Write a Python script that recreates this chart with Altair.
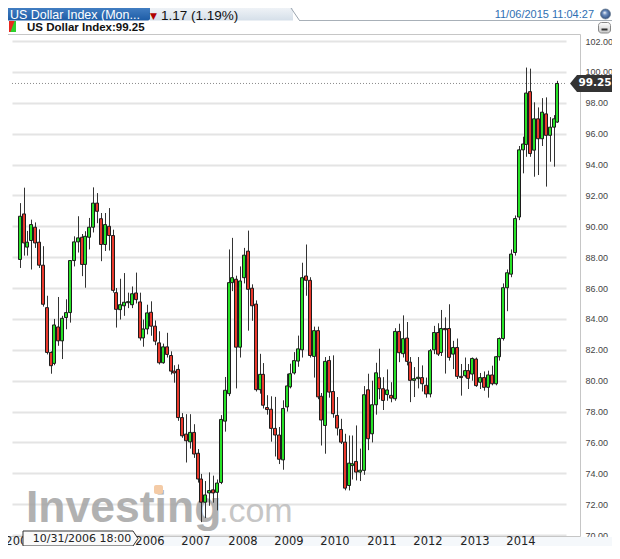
import altair as alt
import pandas as pd

# ---------------- data (monthly candles) ----------------
opens = [87.85, 90.80, 88.65, 89.08, 89.94, 88.97, 87.48, 84.73, 81.83, 81.12,
         83.48, 82.58, 84.09, 84.41, 87.78, 88.99, 89.29, 87.53, 89.29, 89.94,
         91.50, 90.49, 88.82, 90.00, 89.40, 85.70, 84.60, 84.85, 85.05, 84.92,
         85.68, 85.10, 82.77, 83.35, 84.43, 83.53, 82.45, 81.16, 82.19, 81.63,
         80.62, 80.73, 77.61, 76.54, 76.04, 76.65, 75.30, 73.63, 72.13, 72.73,
         72.93, 72.77, 73.41, 77.38, 79.16, 86.35, 86.57, 82.17, 86.67, 88.39,
         85.99, 84.96, 79.42, 80.41, 78.26, 78.15, 76.91, 76.48, 74.87, 78.30,
         79.60, 80.50, 81.27, 82.00, 86.78, 86.50, 81.57, 83.24, 78.99, 77.10,
         81.31, 79.30, 77.75, 76.84, 76.02, 73.21, 74.50, 74.77, 74.08, 74.19,
         79.41, 76.56, 78.44, 80.19, 79.48, 79.10, 79.05, 78.83, 83.19, 81.75,
         82.76, 81.20, 80.02, 80.13, 80.20, 79.70, 79.14, 82.00, 83.12, 81.83,
         83.38, 83.38, 81.72, 82.15, 80.28, 80.32, 80.65, 80.43, 81.40, 79.90,
         80.20, 79.57, 80.37, 79.80, 81.55, 82.73, 86.02, 86.90, 88.30, 90.60,
         94.95, 95.30, 98.72, 94.93, 96.96, 95.67, 97.28, 95.89, 96.42, 96.75]
highs = [91.50, 92.50, 89.70, 90.43, 90.25, 89.80, 88.71, 85.50, 81.90, 84.00,
         85.42, 84.20, 85.27, 87.80, 89.35, 90.65, 89.50, 89.68, 90.54, 92.52,
         92.15, 90.86, 90.86, 91.18, 89.78, 86.00, 86.60, 86.97, 85.70, 86.10,
         87.00, 85.70, 83.96, 84.92, 85.14, 83.90, 83.20, 82.40, 83.10, 81.90,
         81.00, 81.05, 77.90, 77.83, 77.83, 77.18, 75.57, 73.96, 73.50, 74.06,
         73.85, 73.60, 77.77, 80.24, 88.50, 89.25, 86.80, 87.40, 88.60, 89.72,
         86.24, 85.20, 81.74, 81.14, 79.06, 78.99, 78.95, 77.00, 78.73, 80.45,
         81.10, 81.85, 82.92, 87.64, 88.82, 86.70, 83.50, 83.50, 79.20, 81.53,
         81.60, 81.64, 78.94, 77.53, 76.56, 76.45, 76.45, 77.10, 75.60, 79.65,
         80.45, 80.00, 81.16, 82.07, 80.23, 80.73, 79.90, 83.40, 83.69, 84.23,
         83.80, 81.53, 80.88, 81.53, 80.99, 80.20, 82.05, 83.55, 83.72, 84.58,
         84.10, 84.95, 82.58, 82.73, 81.08, 81.50, 81.08, 81.50, 81.50, 80.50,
         80.60, 80.65, 80.97, 81.60, 82.80, 86.30, 87.20, 88.50, 90.70, 95.20,
         95.80, 100.28, 100.21, 98.03, 97.70, 98.30, 98.35, 97.07, 97.20, 99.42]
lows = [87.30, 88.10, 88.10, 87.20, 88.60, 87.30, 84.80, 81.70, 80.45, 81.00,
        82.26, 81.40, 83.33, 83.76, 87.40, 88.30, 86.77, 86.02, 88.50, 89.60,
        90.20, 87.74, 88.40, 88.43, 85.70, 83.44, 83.96, 84.20, 84.70, 84.70,
        85.00, 82.60, 82.20, 83.00, 82.91, 82.30, 81.05, 81.10, 81.50, 80.40,
        79.87, 77.40, 76.30, 74.70, 75.60, 75.00, 73.40, 70.84, 71.10, 71.90,
        72.10, 71.60, 73.30, 76.70, 79.00, 85.80, 79.50, 81.50, 86.30, 83.24,
        83.88, 79.30, 79.16, 78.20, 77.80, 76.05, 75.09, 74.60, 74.23, 78.00,
        79.50, 80.40, 80.90, 81.50, 85.50, 81.50, 80.20, 78.80, 75.80, 75.27,
        78.90, 77.60, 76.45, 75.90, 72.90, 72.89, 73.60, 73.54, 73.50, 73.90,
        75.50, 76.00, 77.80, 78.80, 78.10, 78.70, 78.60, 78.70, 81.20, 81.50,
        80.99, 78.61, 78.94, 79.50, 79.30, 78.90, 78.92, 81.72, 81.60, 81.60,
        80.46, 81.30, 80.75, 80.11, 79.03, 80.20, 79.46, 80.00, 79.60, 79.46,
        79.35, 78.90, 79.70, 79.70, 81.30, 82.60, 84.50, 86.70, 88.10, 90.40,
        93.43, 94.50, 94.50, 93.21, 93.32, 95.20, 92.57, 94.18, 93.86, 96.70]
closes = [90.65, 88.92, 88.97, 90.11, 88.92, 87.48, 84.95, 81.83, 80.97, 83.61,
          82.58, 84.04, 84.41, 87.78, 88.99, 89.25, 87.53, 89.35, 89.94, 91.50,
          90.97, 88.82, 90.11, 89.40, 85.85, 84.62, 84.92, 85.08, 85.12, 85.63,
          85.25, 82.77, 83.35, 84.39, 83.53, 82.56, 81.16, 82.19, 81.70, 80.62,
          80.50, 77.61, 76.43, 76.11, 76.65, 75.25, 73.63, 72.13, 72.60, 72.88,
          72.73, 73.37, 77.49, 79.38, 86.35, 86.67, 82.17, 86.46, 88.13, 85.92,
          84.85, 79.42, 80.41, 78.41, 78.13, 76.91, 76.48, 74.91, 78.20, 79.66,
          80.45, 81.30, 82.06, 86.67, 86.50, 81.63, 83.24, 78.95, 77.45, 81.25,
          79.26, 77.86, 76.93, 76.02, 73.04, 74.66, 74.62, 74.08, 74.20, 79.09,
          76.24, 78.44, 80.51, 79.48, 78.72, 79.40, 78.87, 83.19, 81.81, 82.72,
          81.25, 80.02, 80.13, 80.22, 79.80, 79.14, 81.94, 83.12, 81.72, 83.38,
          83.30, 81.51, 82.15, 80.28, 80.20, 80.65, 80.15, 81.44, 79.68, 80.20,
          79.57, 80.37, 79.80, 81.55, 82.73, 86.02, 86.99, 88.20, 90.50, 94.95,
          95.33, 98.63, 94.71, 96.96, 95.67, 97.39, 95.89, 96.42, 96.96, 99.25]

last_price = 99.25
y_ticks = list(range(70, 104, 2))
year_labels = ["2004", "2006", "2007", "2008", "2009", "2010",
               "2011", "2012", "2013", "2014"]
header_title = "US Dollar Index (Mon..."
header_change = "1.17 (1.19%)"
header_time = "11/06/2015 11:04:27"
series_label = "US Dollar Index:99.25"
crosshair_label = "10/31/2006 18:00"

n = len(opens)
df = pd.DataFrame({"i": list(range(n)), "open": opens, "high": highs,
                   "low": lows, "close": closes})
df["dir"] = ["up" if c >= o else "down" for o, c in zip(opens, closes)]

# year labels sit one every 12 months on the month-index scale
year_idx = [0.2] + [33.6 + 12 * k for k in range(len(year_labels) - 1)]
years_df = pd.DataFrame({"pos": year_idx, "label": year_labels})
price_df = pd.DataFrame({"v": [last_price], "t": [f"{last_price:.2f}"]})

# ---------------- geometry / styling ----------------
W, H = 554, 501
X0, Y0 = 12, 35  # plot origin in widget pixel coordinates


def X(rx):
    return rx - X0


def Y(ry):
    return ry - Y0


GREEN = "#27e227"
RED = "#e8382c"
xscale = alt.Scale(domain=[-0.685, 139.92], nice=False, zero=False, round=True)
yscale = alt.Scale(domain=[69.94, 102.389], nice=False, zero=False)


def yaxis():
    return alt.Axis(orient="right", values=y_ticks, format=".2f", grid=True,
                    gridColor="#e4e4e4", gridWidth=2, domain=False, ticks=False,
                    labelPadding=19, labelFont="Liberation Sans", labelFontSize=9,
                    labelColor="#444444", labelAlign="left",
                    labelBaseline="middle", title=None)


def vgrad(c1, c2):
    return {"gradient": "linear", "x1": 0, "x2": 0, "y1": 0, "y2": 1,
            "stops": [{"offset": 0, "color": c1}, {"offset": 1, "color": c2}]}


one = alt.Data(values=[{"k": 1}])


def box(x1, x2, y1, y2, **kw):
    return alt.Chart(one).mark_rect(**kw).encode(
        x=alt.value(X(x1)), x2=alt.value(X(x2)),
        y=alt.value(Y(y1)), y2=alt.value(Y(y2)))


def label(txt, rx, ry, **kw):
    return alt.Chart(one).mark_text(text=txt, **kw).encode(
        x=alt.value(X(rx)), y=alt.value(Y(ry)))


def seg(x1, y1, x2, y2, **kw):
    return alt.Chart(one).mark_rule(**kw).encode(
        x=alt.value(X(x1)), x2=alt.value(X(x2)),
        y=alt.value(Y(y1)), y2=alt.value(Y(y2)))


# ---------------- layers ----------------
bottom_band = box(3, 620, 537, 560, fill="#f5f8fb")
frame = box(3.5, 580.5, 34.5, 536.5, filled=False, stroke="#c6c6c6", strokeWidth=1)

logo1 = label("Investing", 26, 522, font="Liberation Sans", fontWeight="bold",
              fontSize=44.5, color="#a4a4a4", opacity=0.85, align="left",
              baseline="alphabetic")
logo2 = label(".com", 219, 522, font="Liberation Sans", fontSize=34,
              color="#c0c0c0", opacity=0.9, align="left", baseline="alphabetic")
logo_dot = box(154, 163, 485, 494, fill="#f4cba6", cornerRadius=2)

dotted = alt.Chart(price_df).mark_rule(color="#8a8a8a", strokeDash=[1, 2],
                                       strokeWidth=1).encode(
    y=alt.Y("v:Q", scale=yscale, axis=yaxis()),
    x=alt.value(0), x2=alt.value(W))

wicks = alt.Chart(df).mark_rule(color="#333333", strokeWidth=1, xOffset=0.5).encode(
    x=alt.X("i:Q", scale=xscale, axis=None),
    y=alt.Y("low:Q", scale=yscale, axis=yaxis()),
    y2="high:Q")

bodies = alt.Chart(df).mark_bar(size=3, stroke="#1c1c1c", strokeWidth=1,
                                opacity=1).encode(
    x=alt.X("i:Q", scale=xscale, axis=None),
    y=alt.Y("open:Q", scale=yscale, axis=yaxis()),
    y2="close:Q",
    fill=alt.Fill("dir:N", scale=alt.Scale(domain=["up", "down"],
                                           range=[GREEN, RED]), legend=None))

price_box = alt.Chart(price_df).mark_point(
    shape="M-5.625,0 L-3.875,-2.125 L5.625,-2.125 L5.625,2.125 L-3.875,2.125 Z",
    size=64, filled=True, color="#333333", opacity=1).encode(
    y=alt.Y("v:Q", scale=yscale, axis=yaxis()), x=alt.value(X(592.5)))
price_txt = alt.Chart(price_df).mark_text(
    color="white", font="DejaVu Sans", fontWeight="bold", fontSize=10.5,
    align="center", baseline="middle").encode(
    y=alt.Y("v:Q", scale=yscale, axis=yaxis()), x=alt.value(X(595)), text="t:N")

years = alt.Chart(years_df).mark_text(
    font="DejaVu Sans", fontSize=11.5, color="#222222", align="center",
    baseline="middle").encode(
    x=alt.X("pos:Q", scale=xscale, axis=None), y=alt.value(Y(541.5)),
    text="label:N")

tip_box = alt.Chart(one).mark_point(
    shape="M-5.75,-0.75 L5.25,-0.75 L5.75,0 L5.25,0.75 L-5.75,0.75 Z",
    size=400, filled=True, fill="#fafafa", stroke="#333333", strokeWidth=1,
    opacity=1).encode(x=alt.value(X(80.5)), y=alt.value(Y(538.5)))
tip_txt = label(crosshair_label, 82, 539, font="DejaVu Sans", fontSize=11,
                color="#222222", align="center", baseline="middle")

# header
tab_blue = box(0, 150, 0, 20.5, fill=vgrad("#5a93d3", "#1d5ca6"), cornerRadius=2)
tab_light = box(150, 293, 0, 20.5, fill=vgrad("#ffffff", "#d5dfe9"))
tab_slant = seg(291, 8, 299.5, 20.5, color="#9aa4ae", strokeWidth=1)
head_line = seg(299, 20.5, 620, 20.5, color="#a8b0b8", strokeWidth=1)
title_txt = label(header_title, 10, 19, font="Liberation Sans", fontSize=12.5,
                  color="white", align="left", baseline="alphabetic")
arrow_txt = label("\u25bc", 150, 18.5, font="DejaVu Sans", fontSize=9,
                  color="#b00000", align="left", baseline="alphabetic")
change_txt = label(header_change, 161, 19.5, font="Liberation Sans", fontSize=13.5,
                   color="#111111", align="left", baseline="alphabetic")
time_txt = label(header_time, 594, 18, font="Liberation Sans", fontSize=11,
                 color="#2f6fb3", align="right", baseline="alphabetic")
globe = alt.Chart(one).mark_point(
    shape="circle", size=100, filled=True, opacity=1, stroke="#6d7d92",
    strokeWidth=0.8,
    fill={"gradient": "radial", "x1": 0.4, "y1": 0.35, "r1": 0,
          "x2": 0.5, "y2": 0.5, "r2": 0.6,
          "stops": [{"offset": 0, "color": "#ffffff"},
                    {"offset": 0.35, "color": "#6f8fc0"},
                    {"offset": 1, "color": "#1e3d6e"}]}).encode(
    x=alt.value(X(605.5)), y=alt.value(Y(14)))

icon_green = box(9, 16, 21, 32, fill="#2bd12b")
icon_red = alt.Chart(one).mark_point(
    shape="M-1,-1.571 L0.6,-1.571 L-0.6,1.571 L-1,1.571 Z", size=49,
    filled=True, color="#e8281e", opacity=1).encode(
    x=alt.value(X(12.5)), y=alt.value(Y(26.5)))
series_txt = label(series_label, 27, 31, font="Liberation Sans",
                   fontWeight="bold", fontSize=11.5, color="#111111",
                   align="left", baseline="alphabetic")
min_btn = box(598.5, 610.5, 22.5, 33, fill=vgrad("#ffffff", "#c8c8c8"),
              stroke="#888888", strokeWidth=1, cornerRadius=3)
min_bar = box(601.5, 607.5, 28.5, 30.5, fill="#333333")

chart = alt.layer(
    bottom_band, frame, logo1, logo2, logo_dot, dotted, wicks, bodies,
    price_box, price_txt, years, tip_box, tip_txt,
    tab_blue, tab_light, tab_slant, head_line, title_txt, arrow_txt, change_txt,
    time_txt, globe, icon_green, icon_red, series_txt, min_btn, min_bar,
).properties(
    width=W, height=H,
    autosize=alt.AutoSizeParams(type="none"),
    padding={"left": 4, "top": 27, "right": 46, "bottom": 10},
    background="white",
).configure_view(strokeWidth=0)

chart.save("out.html", embed_options={"renderer": "svg", "actions": False})
